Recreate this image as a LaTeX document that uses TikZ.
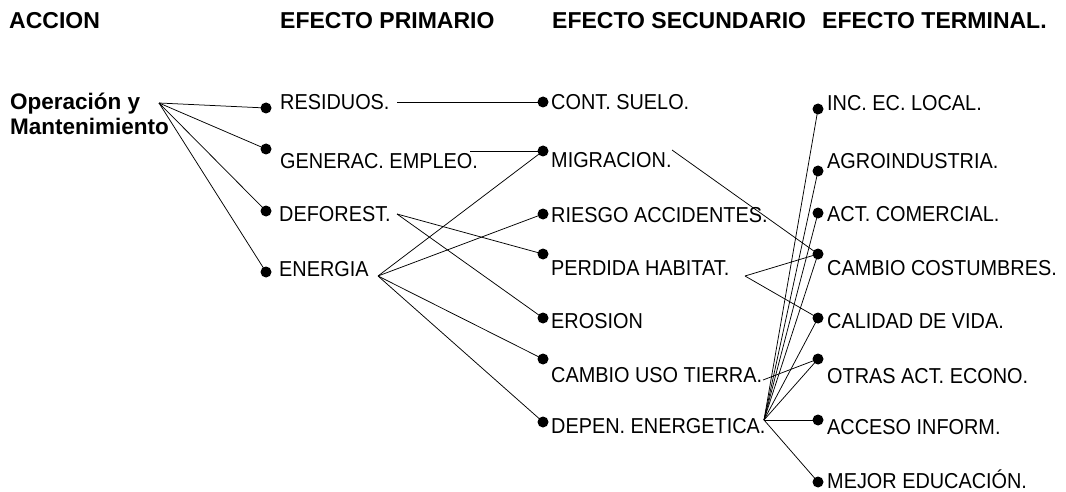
\documentclass[tikz,border=0pt]{standalone}
\usepackage{fontspec}
\setmainfont{Liberation Sans}
\newfontfamily\narrowlbl[FakeStretch=0.92]{Liberation Sans}
\begin{document}
\begin{tikzpicture}[x=1pt,y=-1pt,
  dot/.style={circle,fill=black,inner sep=0pt,minimum size=11pt},
  lbl/.style={anchor=base west,inner sep=0pt,font=\narrowlbl\fontsize{21.6}{25}\selectfont},
  hdr/.style={anchor=base west,inner sep=0pt,font=\bfseries\fontsize{23}{27}\selectfont},
  srcl/.style={anchor=base west,inner sep=0pt,font=\bfseries\fontsize{22.5}{26}\selectfont},
  link/.style={draw=black,line width=0.75pt}]
\useasboundingbox (0,0) rectangle (1066,492);
% headers
\node[hdr] (hA) at (9,28.5) {ACCION};
\node[hdr] (hP) at (280,28.5) {EFECTO PRIMARIO};
\node[hdr] (hS) at (552,28.5) {EFECTO SECUNDARIO};
\node[hdr] (hT) at (822,28.5) {EFECTO TERMINAL.};
% source
\node[srcl] (src1) at (10,110) {Operación y};
\node[srcl] (src2) at (10,135) {Mantenimiento};
\coordinate (so) at (159,103);
% primary
\node[dot] (p1) at (266,108) {};
\node[dot] (p2) at (266,149) {};
\node[dot] (p3) at (266,211) {};
\node[dot] (p4) at (266,272) {};
\node[lbl] (tp1) at (280,110) {RESIDUOS.};
\node[lbl] (tp2) at (280,168.5) {GENERAC. EMPLEO.};
\node[lbl] (tp3) at (279,221.5) {DEFOREST.};
\node[lbl] (tp4) at (279,276) {ENERGIA};
% secondary
\node[dot] (s1) at (543,102) {};
\node[dot] (s2) at (543,151) {};
\node[dot] (s3) at (543,214) {};
\node[dot] (s4) at (543,254) {};
\node[dot] (s5) at (543,318) {};
\node[dot] (s6) at (543,359) {};
\node[dot] (s7) at (543,422) {};
\node[lbl] (ts1) at (551,110) {CONT. SUELO.};
\node[lbl] (ts2) at (551,167.5) {MIGRACION.};
\node[lbl] (ts3) at (551,222.5) {RIESGO ACCIDENTES.};
\node[lbl] (ts4) at (551,275) {PERDIDA HABITAT.};
\node[lbl] (ts5) at (551,328) {EROSION};
\node[lbl] (ts6) at (551,382) {CAMBIO USO TIERRA.};
\node[lbl] (ts7) at (551,433.5) {DEPEN. ENERGETICA.};
% terminal
\node[dot] (r1) at (818,109) {};
\node[dot] (r2) at (818,171) {};
\node[dot] (r3) at (818,213) {};
\node[dot] (r4) at (818,254) {};
\node[dot] (r5) at (818,318) {};
\node[dot] (r6) at (818,359) {};
\node[dot] (r7) at (818,420) {};
\node[dot] (r8) at (818,482) {};
\node[lbl] (tr1) at (827,110.5) {INC. EC. LOCAL.};
\node[lbl] (tr2) at (827,168.5) {AGROINDUSTRIA.};
\node[lbl] (tr3) at (827,222) {ACT. COMERCIAL.};
\node[lbl] (tr4) at (827,275) {CAMBIO COSTUMBRES.};
\node[lbl] (tr5) at (827,328) {CALIDAD DE VIDA.};
\node[lbl] (tr6) at (827,383) {OTRAS ACT. ECONO.};
\node[lbl] (tr7) at (827,434) {ACCESO INFORM.};
\node[lbl] (tr8) at (827,488) {MEJOR EDUCACIÓN.};
% connector start points
\coordinate (cres) at (397,102);
\coordinate (cgen) at (470,151);
\coordinate (cdef) at (397,214);
\coordinate (cene) at (378,276);
\coordinate (cmig) at (672,150);
\coordinate (cper) at (745,276);
\coordinate (ccam) at (763,380);
\coordinate (cdep) at (764,420);
% connectors
\foreach \t in {p1,p2,p3,p4} \draw[link] (so) -- (\t.center);
\draw[link] (cres) -- (s1.center);
\draw[link] (cgen) -- (s2.center);
\draw[link] (cdef) -- (s4.center);
\draw[link] (cdef) -- (s5.center);
\foreach \t in {s2,s3,s6,s7} \draw[link] (cene) -- (\t.center);
\draw[link] (cmig) -- (r4.center);
\draw[link] (cper) -- (r4.center);
\draw[link] (cper) -- (r5.center);
\draw[link] (ccam) -- (r6.center);
\foreach \t in {r1,r2,r3,r4,r5,r6,r7,r8} \draw[link] (cdep) -- (\t.center);
\end{tikzpicture}
\end{document}
